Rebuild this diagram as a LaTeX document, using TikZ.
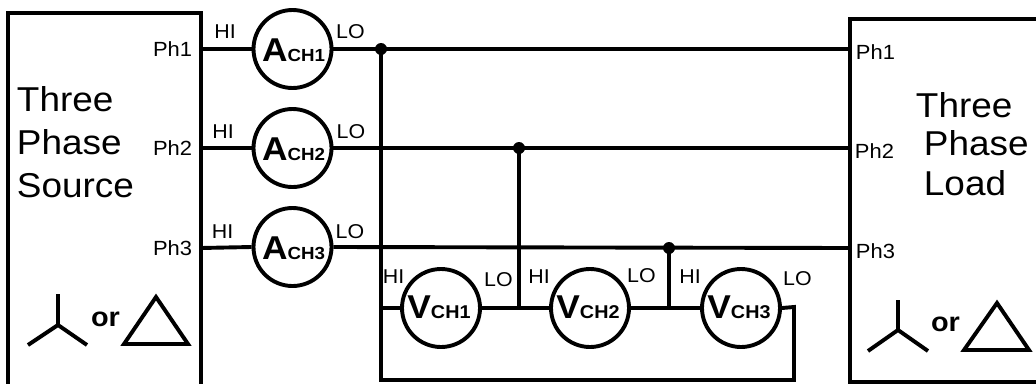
\documentclass[tikz,border=0pt]{standalone}
\usepackage{fontspec}
\setmainfont[FakeStretch=1.07]{Liberation Sans}
\begin{document}
\begin{tikzpicture}[x=1pt,y=-1pt,line width=3.9pt,
  wire/.style={line width=3.9pt},
  meter/.style={circle,draw,line width=3.9pt,minimum size=78pt,inner sep=0pt},
  mtext/.style={inner sep=0pt,font=\bfseries},
  dotn/.style={circle,fill,minimum size=12pt,inner sep=0pt},
  lbl/.style={inner sep=0pt,font=\fontsize{20}{20}\selectfont},
  phl/.style={inner sep=0pt,font=\fontsize{20.5}{20.5}\selectfont},
  big/.style={inner sep=0pt,anchor=base west,font=\fontsize{34.5}{34.5}\selectfont},
  orl/.style={inner sep=0pt,font=\bfseries\fontsize{27}{27}\selectfont}]
\useasboundingbox (0,0) rectangle (1036,383);
% boxes
\draw[wire] (8,400) -- (8,13) -- (201,13) -- (201,400);
\draw[wire] (850,19) rectangle (1060,382);
% source text
\node[big] (st1) at (15,111) {Three};
\node[big] (st2) at (15,154) {Phase};
\node[big] (st3) at (15,197) {Source};
\node[big] (lt1) at (914,117) {Three};
\node[big] (lt2) at (922,155) {Phase};
\node[big] (lt3) at (922,195) {Load};
% phase labels
\node[phl,anchor=east] (sp1) at (194,49) {Ph1};
\node[phl,anchor=east] (sp2) at (194,148) {Ph2};
\node[phl,anchor=east] (sp3) at (194,248) {Ph3};
\node[phl,anchor=west] (lp1) at (854,52) {Ph1};
\node[phl,anchor=west] (lp2) at (853,151) {Ph2};
\node[phl,anchor=west] (lp3) at (854,251) {Ph3};
% terminals
\coordinate (s1) at (201,49);
\coordinate (s2) at (201,148);
\coordinate (s3) at (201,248);
\coordinate (l1) at (850,49);
\coordinate (l2) at (850,148);
\coordinate (l3) at (850,248);
% ammeters
\node[meter] (a1) at (292.5,49) {};
\node[meter] (a2) at (292.5,148) {};
\node[meter] (a3) at (292.5,247) {};
\node[mtext,anchor=base] (a1t) at (293.5,61.5) {\fontsize{33}{33}\selectfont A\fontsize{17.5}{17.5}\selectfont CH1};
\node[mtext,anchor=base] (a2t) at (293.5,160.5) {\fontsize{33}{33}\selectfont A\fontsize{17.5}{17.5}\selectfont CH2};
\node[mtext,anchor=base] (a3t) at (293.5,259.5) {\fontsize{33}{33}\selectfont A\fontsize{17.5}{17.5}\selectfont CH3};
% voltmeters
\node[meter] (v1) at (441,308) {};
\node[meter] (v2) at (590,308) {};
\node[meter] (v3) at (741,308) {};
\node[mtext,anchor=base] (v1t) at (439,318.5) {\fontsize{33}{33}\selectfont V\fontsize{18.5}{18.5}\selectfont CH1};
\node[mtext,anchor=base] (v2t) at (588,318.5) {\fontsize{33}{33}\selectfont V\fontsize{18.5}{18.5}\selectfont CH2};
\node[mtext,anchor=base] (v3t) at (739,318.5) {\fontsize{33}{33}\selectfont V\fontsize{18.5}{18.5}\selectfont CH3};
% dots
\node[dotn] (d1) at (381,49) {};
\node[dotn] (d2) at (519,148) {};
\node[dotn] (d3) at (669,248) {};
\coordinate (j1) at (381,308);
\coordinate (j2) at (519,308);
\coordinate (j3) at (669,308);
\coordinate (c1) at (381,380);
\coordinate (c2) at (794,380);
\coordinate (c3) at (794,307);
% wires
\draw[wire] (s1) -- (a1.west);
\draw[wire] (s2) -- (a2.west);
\draw[wire] (s3) -- (a3.west);
\draw[wire] (a1.east) -- (l1);
\draw[wire] (a2.east) -- (l2);
\draw[wire] (a3.east) -- (l3);
\draw[wire] (d1.center) -- (c1) -- (c2) -- (c3) -- (v3.east);
\draw[wire] (j1) -- (v1.west);
\draw[wire] (v1.east) -- (v2.west);
\draw[wire] (v2.east) -- (v3.west);
\draw[wire] (d2.center) -- (j2);
\draw[wire] (d3.center) -- (j3);
% HI / LO labels
\node[lbl] (ah1) at (225,31.5) {HI};
\node[lbl] (al1) at (350.5,31.5) {LO};
\node[lbl] (ah2) at (223,131.5) {HI};
\node[lbl] (al2) at (351,131.5) {LO};
\node[lbl] (ah3) at (222.5,232) {HI};
\node[lbl] (al3) at (350,232) {LO};
\node[lbl] (vh1) at (393.5,276.5) {HI};
\node[lbl] (vl1) at (498.5,280) {LO};
\node[lbl] (vh2) at (539,276.5) {HI};
\node[lbl] (vl2) at (641.5,276) {LO};
\node[lbl] (vh3) at (690,276.5) {HI};
\node[lbl] (vl3) at (797.5,278.5) {LO};
% wye and delta symbols
\draw[wire] (58,294) -- (58,325) (28,345) -- (58,325) -- (87,345);
\draw[wire,line join=miter] (156,297) -- (124,344) -- (188,344) -- cycle;
\node[orl] (so) at (105.5,319.5) {or};
\draw[wire] (898,300) -- (898,330) (868,351) -- (898,330) -- (928,351);
\draw[wire,line join=miter] (997,303) -- (964,350) -- (1029,350) -- cycle;
\node[orl] (lo) at (945.5,324) {or};
\end{tikzpicture}
\end{document}
